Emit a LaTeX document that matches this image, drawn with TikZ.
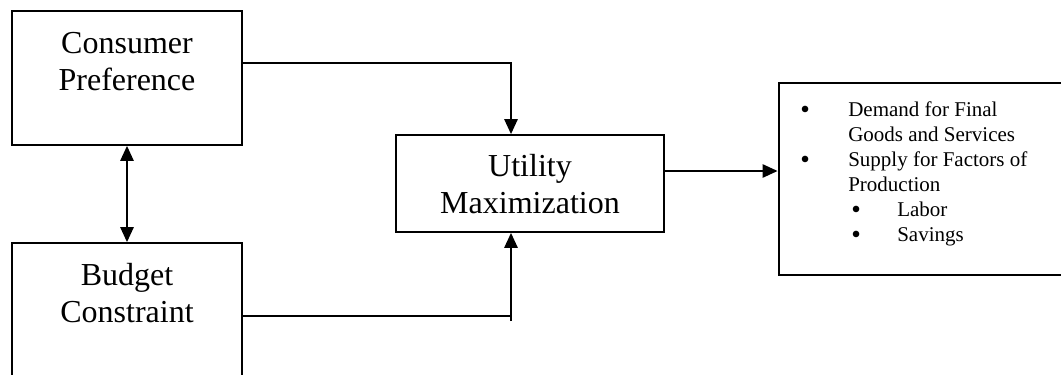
\documentclass[tikz,border=0pt]{standalone}
\usepackage{fontspec}
\setmainfont{Liberation Serif}
\usetikzlibrary{arrows.meta}
\newcommand{\bul}{\raisebox{-1.6pt}{\scalebox{1.3}{\textbullet}}}
\tikzset{
  box/.style={draw, line width=1.2pt, inner sep=0pt},
  bigbox/.style={draw, line width=2pt, inner sep=0pt},
  bigtext/.style={font=\fontsize{24pt}{27.75pt}\selectfont, align=center, inner sep=0pt, anchor=base},
  conn/.style={line width=1.9pt},
  arr/.style={conn, -{Triangle[width=9.75pt, length=11.25pt]}},
  dblarr/.style={conn, {Triangle[width=9.75pt, length=11.25pt]}-{Triangle[width=9.75pt, length=11.25pt]}},
}
\begin{document}
\begin{tikzpicture}[x=0.75pt, y=-0.75pt]
\useasboundingbox (0,0) rectangle (1061,375);

% boxes
\node[box, minimum width=172.5pt, minimum height=100.5pt] (cp) at (127,78) {};
\node[box, minimum width=172.5pt, minimum height=117.75pt] (bc) at (127,321.5) {};
\node[box, minimum width=201pt, minimum height=72.75pt] (um) at (530,183.5) {};
\node[bigbox, minimum width=218.25pt, minimum height=144pt] (rb) at (924.5,179) {};

% box labels (base anchor sits on the last line)
\node[bigtext] (cpt) at (127,90) {Consumer\\Preference};
\node[bigtext] (bct) at (127,322) {Budget\\Constraint};
\node[bigtext] (umt) at (530,213) {Utility\\Maximization};

% outcome list
\node[anchor=base west, inner sep=0pt, font=\fontsize{15.75pt}{18.75pt}\selectfont, align=left] (list) at (800,241)
  {\makebox[36pt][l]{\bul}Demand for Final\\
   \hspace*{36pt}Goods and Services\\
   \makebox[36pt][l]{\bul}Supply for Factors of\\
   \hspace*{36pt}Production\\
   \hspace*{38.25pt}\makebox[34.5pt][l]{\bul}Labor\\
   \hspace*{38.25pt}\makebox[34.5pt][l]{\bul}Savings};

% connector routing points
\coordinate (c1) at (511,63);
\coordinate (c4) at (511,316);
\coordinate (c3) at (511,321);
\coordinate (c5) at (664,171);

% connectors
\draw[arr] (cp.east |- c1) -- (c1) -- (c1 |- um.north);
\draw[conn] (bc.east |- c4) -- (c4);
\draw[arr] (c3) -- (c3 |- um.south);
\draw[dblarr] (cp.south) -- (bc.north);
\draw[arr] (c5) -- (c5 -| rb.west);
\end{tikzpicture}
\end{document}
